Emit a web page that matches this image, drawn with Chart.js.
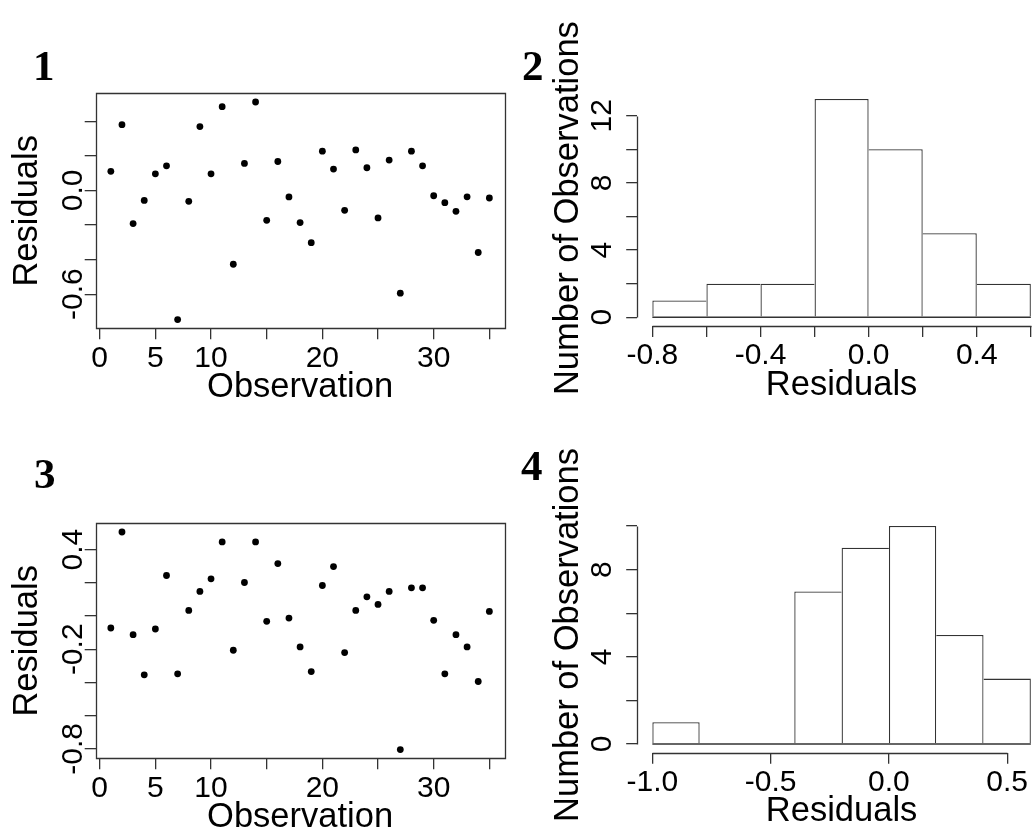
<!DOCTYPE html>
<html>
<head>
<meta charset="utf-8">
<title>Residual diagnostics</title>
<script src="https://cdn.jsdelivr.net/npm/chart.js@4.4.1/dist/chart.umd.min.js"></script>
<style>
  html, body { margin: 0; background: #fff; overflow: hidden; }
  #page { position: relative; width: 1032px; height: 833px; overflow: hidden; }
  #page canvas { position: absolute; }
  .tag { position: absolute; font: bold 43px "Liberation Serif", "Times New Roman", serif; line-height: 43px; color: #000; }
</style>
</head>
<body>
<div id="page">
  <canvas id="obsA" width="516" height="430" style="left:0;top:0"></canvas>
  <canvas id="histA" width="540" height="430" style="left:516px;top:0"></canvas>
  <canvas id="obsB" width="516" height="430" style="left:0;top:430px"></canvas>
  <canvas id="histB" width="540" height="430" style="left:516px;top:430px"></canvas>
  <div class="tag" style="left:33px;top:44px">1</div>
  <div class="tag" style="left:522px;top:44px">2</div>
  <div class="tag" style="left:34px;top:452px">3</div>
  <div class="tag" style="left:521px;top:444px">4</div>
</div>
<script>
const observations = [1, 2, 3, 4, 5, 6, 7, 8, 9, 10, 11, 12, 13, 14, 15, 16, 17, 18,
  19, 20, 21, 22, 23, 24, 25, 26, 27, 28, 29, 30, 31, 32, 33, 34, 35];

const residualsA = [0.110, 0.380, -0.192, -0.058, 0.096, 0.142, -0.747, -0.063, 0.369,
  0.096, 0.484, -0.427, 0.156, 0.511, -0.173, 0.167, -0.038, -0.186, -0.302, 0.227,
  0.123, -0.115, 0.234, 0.131, -0.159, 0.175, -0.594, 0.227, 0.142, -0.031, -0.071,
  -0.121, -0.037, -0.359, -0.044];

const residualsB = [-0.072, 0.506, -0.112, -0.354, -0.078, 0.244, -0.348, 0.034, 0.148,
  0.224, 0.446, -0.206, 0.202, 0.446, -0.032, 0.316, -0.012, -0.186, -0.334, 0.184,
  0.298, -0.220, 0.034, 0.116, 0.070, 0.148, -0.804, 0.170, 0.170, -0.026, -0.348,
  -0.112, -0.186, -0.394, 0.028];

const histAEdges = [-0.8, -0.6, -0.4, -0.2, 0.0, 0.2, 0.4, 0.6];
const histACounts = [1, 2, 2, 13, 10, 5, 2];
const histBEdges = [-1.0, -0.8, -0.6, -0.4, -0.2, 0.0, 0.2, 0.4, 0.6];
const histBCounts = [1, 0, 0, 7, 9, 10, 5, 3];

// tick labels R kept (the others were dropped for overlap)
const obsTickLabels = [0, 5, 10, 20, 30];
const residATickLabels = [-0.6, 0.0];
const residBTickLabels = [-0.8, -0.2, 0.4];
const histAXTickLabels = [-0.8, -0.4, 0.0, 0.4];
const histBXTickLabels = [-1.0, -0.5, 0.0, 0.5];
const histAYTickLabels = [0, 4, 8, 12];
const histBYTickLabels = [0, 4, 8];

const INK = '#333';
const FONT = '"Liberation Sans", Arial, sans-serif';
const TICK_SIZE = 30;
const TITLE_SIZE = 34.5;
const LINE_W = 1.3;

Chart.defaults.font.family = FONT;

const hasTick = (list, v) => list.some(t => Math.abs(t - v) < 1e-9);
const fmt1 = v => (Math.round(v * 10) / 10).toFixed(1);
// R pads each axis range by 4% on both sides
const padRange = (lo, hi) => [lo - (hi - lo) * 0.04, hi + (hi - lo) * 0.04];

// box / detached axes, rotated y labels and y title, drawn the R way
const rStyle = {
  id: 'rStyle',
  afterDraw(chart, args, o) {
    const { ctx, chartArea: a, scales: { x, y } } = chart;
    const crisp = v => Math.round(v) + 0.5;
    ctx.save();
    ctx.strokeStyle = INK;
    ctx.lineWidth = LINE_W;
    ctx.beginPath();
    if (o.box) {
      ctx.rect(crisp(a.left), crisp(a.top), Math.round(a.right - a.left), Math.round(a.bottom - a.top));
    } else {
      const xt = x.ticks;
      const yt = y.ticks;
      ctx.moveTo(crisp(x.getPixelForValue(xt[0].value)), crisp(a.bottom));
      ctx.lineTo(crisp(x.getPixelForValue(xt[xt.length - 1].value)), crisp(a.bottom));
      ctx.moveTo(crisp(a.left), crisp(y.getPixelForValue(yt[0].value)));
      ctx.lineTo(crisp(a.left), crisp(y.getPixelForValue(yt[yt.length - 1].value)));
    }
    ctx.stroke();

    ctx.fillStyle = '#000';
    ctx.textAlign = 'center';
    ctx.textBaseline = 'alphabetic';
    ctx.font = `${TICK_SIZE}px ${FONT}`;
    y.ticks.forEach(t => {
      if (!hasTick(o.yTicks, t.value)) return;
      ctx.save();
      ctx.translate(o.tickX, y.getPixelForValue(t.value));
      ctx.rotate(-Math.PI / 2);
      ctx.fillText(o.yFormat(t.value), 0, 0);
      ctx.restore();
    });
    ctx.font = `${TITLE_SIZE}px ${FONT}`;
    ctx.translate(o.titleX, (a.top + a.bottom) / 2);
    ctx.rotate(-Math.PI / 2);
    ctx.fillText(o.yTitle, 0, 0);
    ctx.restore();
  },
};

function xAxis(min, max, step, shown, format, title) {
  return {
    type: 'linear',
    min,
    max,
    offset: false,
    afterFit: s => { s.height = 79.7; },
    border: { display: false },
    grid: { offset: false, drawOnChartArea: false, tickLength: 11, color: INK, lineWidth: LINE_W },
    ticks: {
      stepSize: step,
      includeBounds: false,
      autoSkip: false,
      maxRotation: 0,
      minRotation: 0,
      padding: 1,
      color: '#000',
      font: { size: TICK_SIZE },
      callback: v => (hasTick(shown, v) ? format(v) : ''),
    },
    title: { display: true, text: title, color: '#000', padding: 0, font: { size: TITLE_SIZE } },
  };
}

function yAxis(min, max, step, width) {
  return {
    type: 'linear',
    min,
    max,
    afterFit: s => { s.width = width; },
    border: { display: false },
    grid: { drawOnChartArea: false, tickLength: 11, color: INK, lineWidth: LINE_W },
    ticks: { display: false, stepSize: step, includeBounds: false },
  };
}

function residualPlot(id, values, yShown, padding) {
  const [xMin, xMax] = padRange(Math.min(...observations), Math.max(...observations));
  const [yMin, yMax] = padRange(Math.min(...values), Math.max(...values));
  return new Chart(document.getElementById(id), {
    type: 'scatter',
    data: {
      datasets: [{
        data: observations.map((o, i) => ({ x: o, y: values[i] })),
        backgroundColor: '#000',
        borderWidth: 0,
        pointRadius: 3.4,
        pointHoverRadius: 3.4,
      }],
    },
    options: {
      responsive: false,
      animation: false,
      events: [],
      layout: { padding },
      scales: {
        x: xAxis(xMin, xMax, 5, obsTickLabels, v => String(v), 'Observation'),
        y: yAxis(yMin, yMax, 0.2, 95.7),
      },
      plugins: {
        legend: { display: false },
        tooltip: { enabled: false },
        rStyle: { box: true, yTicks: yShown, yFormat: fmt1, tickX: 82, titleX: 37, yTitle: 'Residuals' },
      },
    },
    plugins: [rStyle],
  });
}

function histogram(id, edges, counts, xStep, xShown, yShown, padding) {
  const [xMin, xMax] = padRange(edges[0], edges[edges.length - 1]);
  const [yMin, yMax] = padRange(0, Math.max(...counts));
  // each shared edge is drawn once, by the taller bar
  const edgeWidth = ctx => {
    const i = ctx.dataIndex;
    if (i === undefined) return LINE_W;
    const c = counts[i];
    const prev = counts[i - 1];
    const next = counts[i + 1];
    return {
      top: LINE_W,
      bottom: 0,
      left: prev === undefined || prev <= c ? LINE_W : 0,
      right: next === undefined || next < c ? LINE_W : 0,
    };
  };
  return new Chart(document.getElementById(id), {
    type: 'bar',
    data: {
      datasets: [
        {
          type: 'line',
          data: [{ x: edges[0], y: 0 }, { x: edges[edges.length - 1], y: 0 }],
          borderColor: INK,
          borderWidth: LINE_W,
          pointRadius: 0,
          order: 0,
        },
        {
          type: 'bar',
          data: counts.map((c, i) => ({ x: (edges[i] + edges[i + 1]) / 2, y: c })),
          backgroundColor: '#fff',
          borderColor: INK,
          borderWidth: edgeWidth,
          borderSkipped: false,
          inflateAmount: 0,
          barPercentage: 1,
          categoryPercentage: 1,
          order: 1,
        },
      ],
    },
    options: {
      responsive: false,
      animation: false,
      events: [],
      layout: { padding },
      scales: {
        x: xAxis(xMin, xMax, xStep, xShown, fmt1, 'Residuals'),
        y: yAxis(yMin, yMax, 2, 121.2),
      },
      plugins: {
        legend: { display: false },
        tooltip: { enabled: false },
        rStyle: {
          box: false, yTicks: yShown, yFormat: v => String(v), tickX: 95, titleX: 62, yTitle: 'Number of Observations',
        },
      },
    },
    plugins: [rStyle],
  });
}

residualPlot('obsA', residualsA, residATickLabels, { top: 93.3, right: 11.5, bottom: 22, left: 0 });
residualPlot('obsB', residualsB, residBTickLabels, { top: 93.3, right: 11.5, bottom: 22, left: 0 });
histogram('histA', histAEdges, histACounts, 0.2, histAXTickLabels, histAYTickLabels,
  { top: 90.2, right: 10, bottom: 24.3, left: 0 });
histogram('histB', histBEdges, histBCounts, 0.5, histBXTickLabels, histBYTickLabels,
  { top: 87.3, right: 10, bottom: 27.6, left: 0 });
</script>
</body>
</html>
